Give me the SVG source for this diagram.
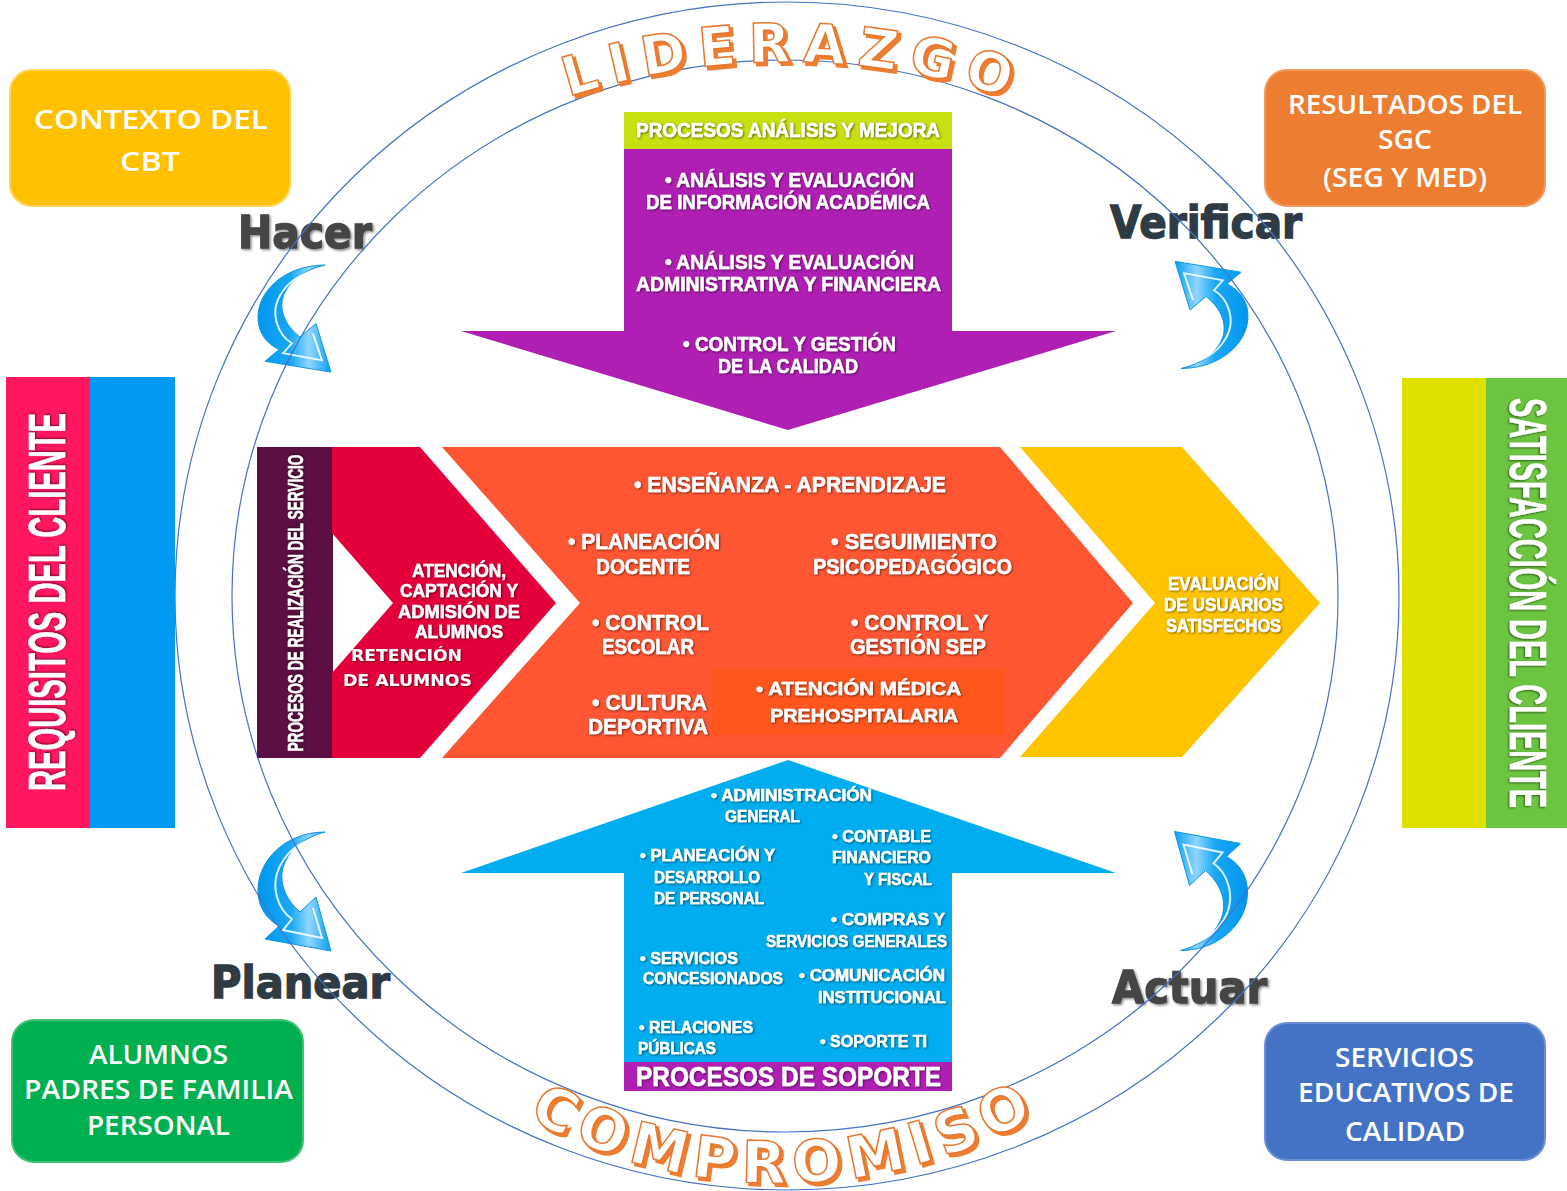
<svg xmlns="http://www.w3.org/2000/svg" xmlns:xlink="http://www.w3.org/1999/xlink" width="1567" height="1191" viewBox="0 0 1567 1191">
<style>
.ring{fill:none;stroke:#4472C4;stroke-width:1.2}
.w{fill:#fff;stroke:#fff;stroke-width:0.5;font-family:'Liberation Sans Narrow','Liberation Sans',Arial,sans-serif;font-weight:700;filter:url(#ts)}
.sp{fill:#fff;font-family:'DejaVu Sans',Verdana,sans-serif;font-weight:700;filter:url(#ts)}
.box{fill:#fff;font-family:'Open Sans','Liberation Sans',sans-serif;font-weight:600;font-size:27px}
.cyc{font-family:'DejaVu Sans',Verdana,sans-serif;font-weight:700;font-size:45px;stroke-width:1.4}
.wa{font-family:'DejaVu Sans',Verdana,sans-serif;font-weight:700}
.waS{fill:#ED7D31;stroke:#ED7D31;stroke-width:2}
.waF{fill:#fff;stroke:#E8782E;stroke-width:1.5}
.carr{fill:url(#ag);stroke:#0A94E6;stroke-width:1}
.hl{fill:none;stroke:#fff;stroke-width:2;opacity:.85}
</style>
<defs>
<filter id="ts" x="-10%" y="-40%" width="120%" height="180%"><feDropShadow dx="1" dy="1" stdDeviation="0.9" flood-color="#000" flood-opacity="0.55"/></filter>
<filter id="bev" x="-10%" y="-20%" width="120%" height="140%"><feDropShadow dx="1.5" dy="1.5" stdDeviation="1.2" flood-color="#000" flood-opacity="0.45"/></filter>
<linearGradient id="ag" x1="0" y1="0" x2="1" y2="0">
<stop offset="0" stop-color="#0096EE"/><stop offset="0.45" stop-color="#1AA8F4"/><stop offset="0.7" stop-color="#8FD6FF"/><stop offset="1" stop-color="#0A9EF0"/>
</linearGradient>
<path id="carr" d="M 325,832 C 282,832 252,866 259,900 C 262,913 270,921 279,926 L 265,939 L 331,951 L 316,897 L 300,912 C 285,899 277,880 285,862 C 292,847 306,837 325,832 Z"/>
<path id="carrHL" d="M 316,838 C 287,845 270,872 277,897 C 280,908 286,915 292,919 L 283,930 L 322,938 L 313,908"/>
<path id="lidPath" d="M 337,225.8 A 700 700 0 0 1 1237,225.8"/>
<path id="compPath" d="M 360,969.6 A 520 520 0 0 0 1200,969.6"/>
</defs>

<rect width="1567" height="1191" fill="#fff"/>

<g id="cycle-labels">
<text class="cyc" x="238" y="248" textLength="134" lengthAdjust="spacingAndGlyphs" fill="#454545" stroke="#454545" filter="url(#bev)">Hacer</text>
<text class="cyc" x="1110" y="238" textLength="192" lengthAdjust="spacingAndGlyphs" fill="#2E3B44" stroke="#2E3B44">Verificar</text>
<text class="cyc" x="211" y="998" textLength="179" lengthAdjust="spacingAndGlyphs" fill="#2E3B44" stroke="#2E3B44">Planear</text>
<text class="cyc" x="1112" y="1003" textLength="155" lengthAdjust="spacingAndGlyphs" fill="#454545" stroke="#454545" filter="url(#bev)">Actuar</text>
</g>

<g id="connectors">
<g id="arrow-hacer" transform="translate(0,265) scale(1,0.9) translate(0,-832)"><use href="#carr" class="carr"/><use href="#carrHL" class="hl"/></g>
<g id="arrow-verificar" transform="translate(1211.5,315) rotate(180) translate(-294.5,-318.5)"><g transform="translate(0,265) scale(1,0.9) translate(0,-832)"><use href="#carr" class="carr"/><use href="#carrHL" class="hl"/></g></g>
<g id="arrow-planear"><use href="#carr" class="carr"/><use href="#carrHL" class="hl"/></g>
<g id="arrow-actuar" transform="translate(1211,891) rotate(180) translate(-294.5,-891.5)"><use href="#carr" class="carr"/><use href="#carrHL" class="hl"/></g>
</g>

<g id="rings">
<ellipse class="ring" cx="787" cy="596" rx="612" ry="594"/>
<ellipse class="ring" cx="785" cy="596" rx="553" ry="536"/>
</g>

<g id="liderazgo">
<text class="wa waS" font-size="54" letter-spacing="12" transform="translate(3,3)"><textPath href="#lidPath" startOffset="495" text-anchor="middle">LIDERAZGO</textPath></text>
<text class="wa waF" font-size="54" letter-spacing="12"><textPath href="#lidPath" startOffset="495" text-anchor="middle">LIDERAZGO</textPath></text>
</g>
<g id="compromiso">
<text class="wa waS" font-size="58" letter-spacing="8" transform="translate(3,3)"><textPath href="#compPath" startOffset="494" text-anchor="middle">COMPROMISO</textPath></text>
<text class="wa waF" font-size="58" letter-spacing="8"><textPath href="#compPath" startOffset="494" text-anchor="middle">COMPROMISO</textPath></text>
</g>

<g id="contexto">
<rect x="10" y="70" width="280" height="136" rx="22" fill="#FFC000" stroke="#FFD557" stroke-width="2"/>
<text class="box" x="34" y="129" textLength="234" lengthAdjust="spacingAndGlyphs">CONTEXTO DEL</text>
<text class="box" x="120" y="171" textLength="60" lengthAdjust="spacingAndGlyphs">CBT</text>
</g>
<g id="resultados">
<rect x="1265" y="70" width="280" height="136" rx="22" fill="#ED7D31" stroke="#F29A5C" stroke-width="2"/>
<text class="box" x="1288" y="114" textLength="234" lengthAdjust="spacingAndGlyphs">RESULTADOS DEL</text>
<text class="box" x="1378" y="149" textLength="54" lengthAdjust="spacingAndGlyphs">SGC</text>
<text class="box" x="1323" y="187" textLength="164" lengthAdjust="spacingAndGlyphs">(SEG Y MED)</text>
</g>
<g id="alumnos">
<rect x="12" y="1020" width="291" height="142" rx="22" fill="#00B050" stroke="#3DC374" stroke-width="2"/>
<text class="box" x="89" y="1064" textLength="139" lengthAdjust="spacingAndGlyphs">ALUMNOS</text>
<text class="box" x="24" y="1099" textLength="269" lengthAdjust="spacingAndGlyphs">PADRES DE FAMILIA</text>
<text class="box" x="87" y="1135" textLength="143" lengthAdjust="spacingAndGlyphs">PERSONAL</text>
</g>
<g id="servicios">
<rect x="1265" y="1023" width="280" height="137" rx="22" fill="#4472C4" stroke="#6A8FD2" stroke-width="2"/>
<text class="box" x="1335" y="1067" textLength="139" lengthAdjust="spacingAndGlyphs">SERVICIOS</text>
<text class="box" x="1298" y="1102" textLength="216" lengthAdjust="spacingAndGlyphs">EDUCATIVOS DE</text>
<text class="box" x="1345" y="1141" textLength="120" lengthAdjust="spacingAndGlyphs">CALIDAD</text>
</g>

<g id="requisitos">
<rect x="6" y="377" width="85" height="451" fill="#FF1760"/>
<rect x="90" y="377" width="85" height="451" fill="#0399F4"/>
<text class="w" font-size="52" stroke-width="1.2" transform="translate(65,602) rotate(-90)" x="-189" y="0" textLength="378" lengthAdjust="spacingAndGlyphs">REQUISITOS DEL CLIENTE</text>
</g>
<g id="satisfaccion">
<rect x="1402" y="378" width="85" height="450" fill="#DFE000"/>
<rect x="1486" y="378" width="81" height="450" fill="#6CC541"/>
<text class="w" font-size="52" stroke-width="1.2" transform="translate(1510,603) rotate(90)" x="-205" y="0" textLength="410" lengthAdjust="spacingAndGlyphs">SATISFACCIÓN DEL CLIENTE</text>
</g>

<g id="analisis-mejora">
<polygon points="624,148 952,148 952,331 1116,331 788,430 461,331 624,331" fill="#B01FB4"/>
<rect x="624" y="112" width="328" height="37" fill="#C8DF12"/>
<text class="w" font-size="20" x="636" y="137" textLength="304" lengthAdjust="spacingAndGlyphs">PROCESOS ANÁLISIS Y MEJORA</text>
<text class="w" font-size="21" x="665" y="187" textLength="249" lengthAdjust="spacingAndGlyphs">• ANÁLISIS Y EVALUACIÓN</text>
<text class="w" font-size="21" x="646" y="209" textLength="284" lengthAdjust="spacingAndGlyphs">DE INFORMACIÓN ACADÉMICA</text>
<text class="w" font-size="21" x="665" y="269" textLength="249" lengthAdjust="spacingAndGlyphs">• ANÁLISIS Y EVALUACIÓN</text>
<text class="w" font-size="21" x="636" y="291" textLength="305" lengthAdjust="spacingAndGlyphs">ADMINISTRATIVA Y FINANCIERA</text>
<text class="w" font-size="21" x="683" y="351" textLength="213" lengthAdjust="spacingAndGlyphs">• CONTROL Y GESTIÓN</text>
<text class="w" font-size="21" x="718" y="373" textLength="140" lengthAdjust="spacingAndGlyphs">DE LA CALIDAD</text>
</g>

<g id="realizacion">
<rect x="257" y="447" width="76" height="311" fill="#5C0F42"/>
<text class="w" font-size="22" transform="translate(303,603) rotate(-90)" x="-148.5" y="0" textLength="297" lengthAdjust="spacingAndGlyphs">PROCESOS DE REALIZACIÓN DEL SERVICIO</text>
</g>
<g id="atencion">
<polygon points="332,447 420,447 556,603 420,758 332,758 332,673 393,603 332,533" fill="#E4003A"/>
<text class="w" font-size="19" x="412" y="577" textLength="94" lengthAdjust="spacingAndGlyphs">ATENCIÓN,</text>
<text class="w" font-size="19" x="400" y="597" textLength="118" lengthAdjust="spacingAndGlyphs">CAPTACIÓN Y</text>
<text class="w" font-size="19" x="398" y="618" textLength="122" lengthAdjust="spacingAndGlyphs">ADMISIÓN DE</text>
<text class="w" font-size="19" x="415" y="638" textLength="88" lengthAdjust="spacingAndGlyphs">ALUMNOS</text>
<text class="sp" font-size="16" x="351" y="661" textLength="111" lengthAdjust="spacingAndGlyphs">RETENCIÓN</text>
<text class="sp" font-size="16" x="343" y="686" textLength="129" lengthAdjust="spacingAndGlyphs">DE ALUMNOS</text>
</g>
<g id="ensenanza">
<polygon points="442,447 1000,447 1133,603 1000,758 442,758 580,603" fill="#FE5632"/>
<rect x="712" y="668" width="293" height="67" fill="#FF561E"/>
<text class="w" font-size="22" x="634" y="492" textLength="312" lengthAdjust="spacingAndGlyphs">• ENSEÑANZA - APRENDIZAJE</text>
<text class="w" font-size="22" x="568" y="549" textLength="152" lengthAdjust="spacingAndGlyphs">• PLANEACIÓN</text>
<text class="w" font-size="22" x="596" y="574" textLength="94" lengthAdjust="spacingAndGlyphs">DOCENTE</text>
<text class="w" font-size="22" x="831" y="549" textLength="166" lengthAdjust="spacingAndGlyphs">• SEGUIMIENTO</text>
<text class="w" font-size="22" x="813" y="574" textLength="199" lengthAdjust="spacingAndGlyphs">PSICOPEDAGÓGICO</text>
<text class="w" font-size="22" x="592" y="630" textLength="117" lengthAdjust="spacingAndGlyphs">• CONTROL</text>
<text class="w" font-size="22" x="602" y="654" textLength="92" lengthAdjust="spacingAndGlyphs">ESCOLAR</text>
<text class="w" font-size="22" x="851" y="630" textLength="137" lengthAdjust="spacingAndGlyphs">• CONTROL Y</text>
<text class="w" font-size="22" x="850" y="654" textLength="136" lengthAdjust="spacingAndGlyphs">GESTIÓN SEP</text>
<text class="w" font-size="22" x="592" y="710" textLength="115" lengthAdjust="spacingAndGlyphs">• CULTURA</text>
<text class="w" font-size="22" x="588" y="734" textLength="120" lengthAdjust="spacingAndGlyphs">DEPORTIVA</text>
<text class="w" font-size="19" x="756" y="695" textLength="205" lengthAdjust="spacingAndGlyphs">• ATENCIÓN MÉDICA</text>
<text class="w" font-size="19" x="770" y="722" textLength="188" lengthAdjust="spacingAndGlyphs">PREHOSPITALARIA</text>
</g>
<g id="evaluacion">
<polygon points="1020,447 1182,447 1320,603 1182,757 1020,757 1155,603" fill="#FFC400"/>
<text class="w" font-size="18" x="1168" y="589.5" textLength="111" lengthAdjust="spacingAndGlyphs">EVALUACIÓN</text>
<text class="w" font-size="18" x="1164" y="610.5" textLength="119" lengthAdjust="spacingAndGlyphs">DE USUARIOS</text>
<text class="w" font-size="18" x="1166" y="631.5" textLength="115" lengthAdjust="spacingAndGlyphs">SATISFECHOS</text>
</g>

<g id="soporte">
<polygon points="788,760 1116,873 952,873 952,1062 624,1062 624,873 461,873" fill="#00AEEF"/>
<rect x="624" y="1062" width="328" height="29" fill="#B01FB4"/>
<text class="w" font-size="27" x="636" y="1086" textLength="305" lengthAdjust="spacingAndGlyphs">PROCESOS DE SOPORTE</text>
<text class="w" font-size="16" x="711" y="801" textLength="161" lengthAdjust="spacingAndGlyphs">• ADMINISTRACIÓN</text>
<text class="w" font-size="16" x="725" y="822" textLength="75" lengthAdjust="spacingAndGlyphs">GENERAL</text>
<text class="w" font-size="16" x="832" y="842" textLength="99" lengthAdjust="spacingAndGlyphs">• CONTABLE</text>
<text class="w" font-size="16" x="832" y="863" textLength="99" lengthAdjust="spacingAndGlyphs">FINANCIERO</text>
<text class="w" font-size="16" x="864" y="885" textLength="68" lengthAdjust="spacingAndGlyphs">Y FISCAL</text>
<text class="w" font-size="16" x="640" y="861" textLength="135" lengthAdjust="spacingAndGlyphs">• PLANEACIÓN Y</text>
<text class="w" font-size="16" x="654" y="883" textLength="106" lengthAdjust="spacingAndGlyphs">DESARROLLO</text>
<text class="w" font-size="16" x="654" y="904" textLength="110" lengthAdjust="spacingAndGlyphs">DE PERSONAL</text>
<text class="w" font-size="16" x="831" y="925" textLength="114" lengthAdjust="spacingAndGlyphs">• COMPRAS Y</text>
<text class="w" font-size="16" x="766" y="947" textLength="181" lengthAdjust="spacingAndGlyphs">SERVICIOS GENERALES</text>
<text class="w" font-size="16" x="640" y="964" textLength="98" lengthAdjust="spacingAndGlyphs">• SERVICIOS</text>
<text class="w" font-size="16" x="643" y="984" textLength="140" lengthAdjust="spacingAndGlyphs">CONCESIONADOS</text>
<text class="w" font-size="16" x="799" y="981" textLength="146" lengthAdjust="spacingAndGlyphs">• COMUNICACIÓN</text>
<text class="w" font-size="16" x="818" y="1003" textLength="128" lengthAdjust="spacingAndGlyphs">INSTITUCIONAL</text>
<text class="w" font-size="16" x="639" y="1033" textLength="114" lengthAdjust="spacingAndGlyphs">• RELACIONES</text>
<text class="w" font-size="16" x="638" y="1054" textLength="78" lengthAdjust="spacingAndGlyphs">PÚBLICAS</text>
<text class="w" font-size="16" x="820" y="1047" textLength="107" lengthAdjust="spacingAndGlyphs">• SOPORTE TI</text>
</g>
</svg>
